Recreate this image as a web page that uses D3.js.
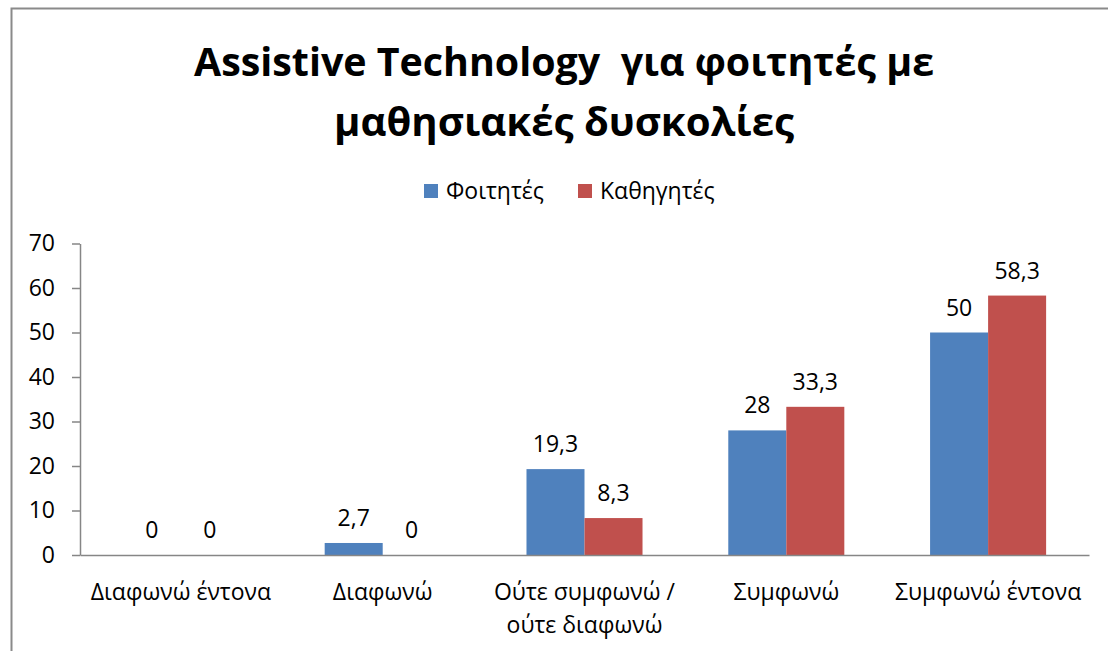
<!DOCTYPE html>
<html>
<head>
<meta charset="utf-8">
<script src="https://cdn.jsdelivr.net/npm/d3@7"></script>
<style>
  html, body { margin: 0; padding: 0; background: #fff; }
  svg { display: block; }
  text { font-family: "Open Sans", "Noto Sans", sans-serif; fill: #000; }
  .title { white-space: pre; }
</style>
</head>
<body>
<svg id="chart" width="1108" height="651"></svg>
<script>
const titleLines = ["Assistive Technology  για φοιτητές με", "μαθησιακές δυσκολίες"];
const categories = ["Διαφωνώ έντονα", "Διαφωνώ", "Ούτε συμφωνώ / ούτε διαφωνώ", "Συμφωνώ", "Συμφωνώ έντονα"];
const seriesNames = ["Φοιτητές", "Καθηγητές"];
const students = [0, 2.7, 19.3, 28, 50];
const teachers = [0, 0, 8.3, 33.3, 58.3];
const yTicks = [0, 10, 20, 30, 40, 50, 60, 70];
const colors = ["#4F81BD", "#C0504D"];

const svg = d3.select("#chart");
const FS = 23;

// outer chart border (cropped at right/bottom)
svg.append("rect")
  .attr("x", 11.5).attr("y", 8.5)
  .attr("width", 1200).attr("height", 700)
  .attr("fill", "none").attr("stroke", "#8a8a8a").attr("stroke-width", 2);

// title
const titleTargets = [740, 460];
const titleBase = [76, 136];
titleLines.forEach((t, i) => {
  svg.append("text")
    .attr("class", "title")
    .attr("x", 564).attr("y", titleBase[i])
    .attr("text-anchor", "middle")
    .attr("font-size", 40).attr("font-weight", 700)
    .attr("textLength", titleTargets[i])
    .attr("lengthAdjust", "spacingAndGlyphs")
    .text(t);
});

// legend
const legendX = [424, 578];
seriesNames.forEach((n, i) => {
  svg.append("rect")
    .attr("x", legendX[i]).attr("y", 184)
    .attr("width", 14).attr("height", 14)
    .attr("fill", colors[i]);
  svg.append("text")
    .attr("x", legendX[i] + 22).attr("y", 199)
    .attr("font-size", FS)
    .text(n);
});

// scales
const plotLeft = 80, plotRight = 1089, plotBottom = 555, plotTop = 243.5;
const x0 = d3.scaleBand().domain(categories).range([plotLeft, plotRight])
  .paddingInner(0.425).paddingOuter(0.2125);
const x1 = d3.scaleBand().domain(seriesNames).range([0, x0.bandwidth()]);
const y = d3.scaleLinear().domain([0, 70]).range([plotBottom, plotTop]);

// y axis
const yAxis = svg.append("g")
  .attr("transform", `translate(${plotLeft},0)`)
  .call(d3.axisLeft(y).tickValues(yTicks).tickSize(8).tickSizeOuter(0).tickPadding(17));
yAxis.select(".domain").attr("stroke", "#868686").attr("stroke-width", 1.5);
yAxis.selectAll(".tick line").attr("stroke", "#868686").attr("stroke-width", 1.5);
yAxis.selectAll(".tick text").attr("font-size", FS).attr("font-family", "\"Open Sans\", sans-serif").attr("fill", "#000");

// bars
const rows = categories.map((c, i) => ({ cat: c, vals: [students[i], teachers[i]] }));
const groups = svg.append("g").selectAll("g").data(rows).join("g")
  .attr("transform", d => `translate(${x0(d.cat)},0)`);
groups.selectAll("rect").data(d => d.vals.map((v, j) => ({ v, s: seriesNames[j], j })))
  .join("rect")
  .attr("x", d => x1(d.s))
  .attr("width", x1.bandwidth())
  .attr("y", d => y(d.v))
  .attr("height", d => plotBottom - y(d.v))
  .attr("fill", d => colors[d.j]);
groups.selectAll("text.lbl").data(d => d.vals.map((v, j) => ({ v, s: seriesNames[j], j })))
  .join("text").attr("class", "lbl")
  .attr("x", d => x1(d.s) + x1.bandwidth() / 2)
  .attr("y", d => y(d.v) - 17)
  .attr("text-anchor", "middle")
  .attr("font-size", FS)
  .text(d => String(d.v).replace(".", ","));

// x axis line
const xAxis = svg.append("g")
  .attr("transform", `translate(0,${plotBottom})`)
  .call(d3.axisBottom(x0).tickSize(0).tickSizeOuter(0).tickFormat(""));
xAxis.select(".domain").attr("stroke", "#868686").attr("stroke-width", 1.5);

// category labels with wrapping
categories.forEach(c => {
  const cx = x0(c) + x0.bandwidth() / 2;
  const lines = c.includes(" / ") ? [c.split(" / ")[0] + " /", c.split(" / ")[1]] : [c];
  const t = svg.append("text")
    .attr("x", cx).attr("y", 600)
    .attr("text-anchor", "middle")
    .attr("font-size", FS);
  lines.forEach((l, k) => {
    t.append("tspan").attr("x", cx).attr("y", 600 + k * 33).text(l);
  });
});
</script>
</body>
</html>
